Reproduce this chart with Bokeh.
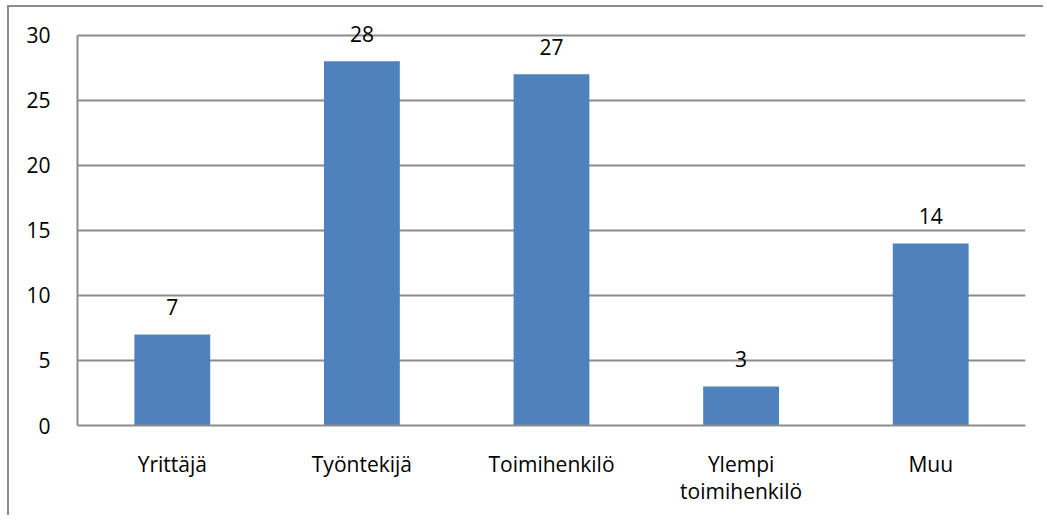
from bokeh.plotting import figure
from bokeh.models import (ColumnDataSource, FactorRange, Range1d, LabelSet,
                          SingleIntervalTicker, CategoricalAxis)
from bokeh.core.properties import value
from bokeh.embed import file_html
from bokeh.resources import INLINE

categories = ["Yrittäjä", "Työntekijä", "Toimihenkilö", "Ylempi toimihenkilö", "Muu"]
values = [7, 28, 27, 3, 14]
# tick labels, split over two lines (blank second lines made unique by their length)
label_line1 = ["Yrittäjä", "Työntekijä", "Toimihenkilö", "Ylempi", "Muu"]
label_line2 = [" ", "  ", "   ", "toimihenkilö", "    "]
value_labels = [str(v) for v in values]
y_max = 30

FONT = "Open Sans"
FS = "21px"
GRID = "#8c8c8c"

src = ColumnDataSource(dict(cat=categories, val=values, lab=value_labels))

p = figure(x_range=FactorRange(*categories, range_padding=0), y_range=Range1d(0, 31.6),
           width=1036, height=510, output_backend="svg", toolbar_location=None,
           x_axis_location=None,
           min_border_left=68, min_border_right=20, min_border_top=7, min_border_bottom=92)
p.styles = {"border-left": "2px solid #8c8c8c", "border-top": "2px solid #8c8c8c",
            "margin-left": "7px", "margin-top": "5px"}
p.extra_x_ranges = {"l1": FactorRange(*label_line1, range_padding=0),
                    "l2": FactorRange(*label_line2, range_padding=0)}

p.vbar(x="cat", top="val", width=0.4, source=src, color="#4F81BD", line_color=None)

labels = LabelSet(x="cat", y="val", text="lab", source=src, text_align="center",
                  text_baseline="bottom", y_offset=19, text_font=value(FONT),
                  text_font_size=FS, text_color="black", level="overlay")
p.add_layout(labels)

p.outline_line_color = None
p.xgrid.grid_line_color = None
p.ygrid.grid_line_color = GRID
p.ygrid.grid_line_width = 2
p.yaxis.ticker = SingleIntervalTicker(interval=5)
p.yaxis.bounds = (0, y_max)

ax1 = CategoricalAxis(x_range_name="l1")
ax2 = CategoricalAxis(x_range_name="l2")
p.add_layout(ax1, "below")
p.add_layout(ax2, "below")

for ax in (p.yaxis[0], ax1, ax2):
    ax.axis_line_color = GRID
    ax.axis_line_width = 2
    ax.major_tick_line_color = None
    ax.minor_tick_line_color = None
    ax.major_label_text_font = FONT
    ax.major_label_text_font_size = FS
    ax.major_label_text_color = "black"

ax2.axis_line_color = None
ax2.major_label_standoff = -10

p.yaxis.major_label_standoff = 21
ax1.major_label_standoff = 18

open("out.html", "w").write(file_html(p, INLINE))
